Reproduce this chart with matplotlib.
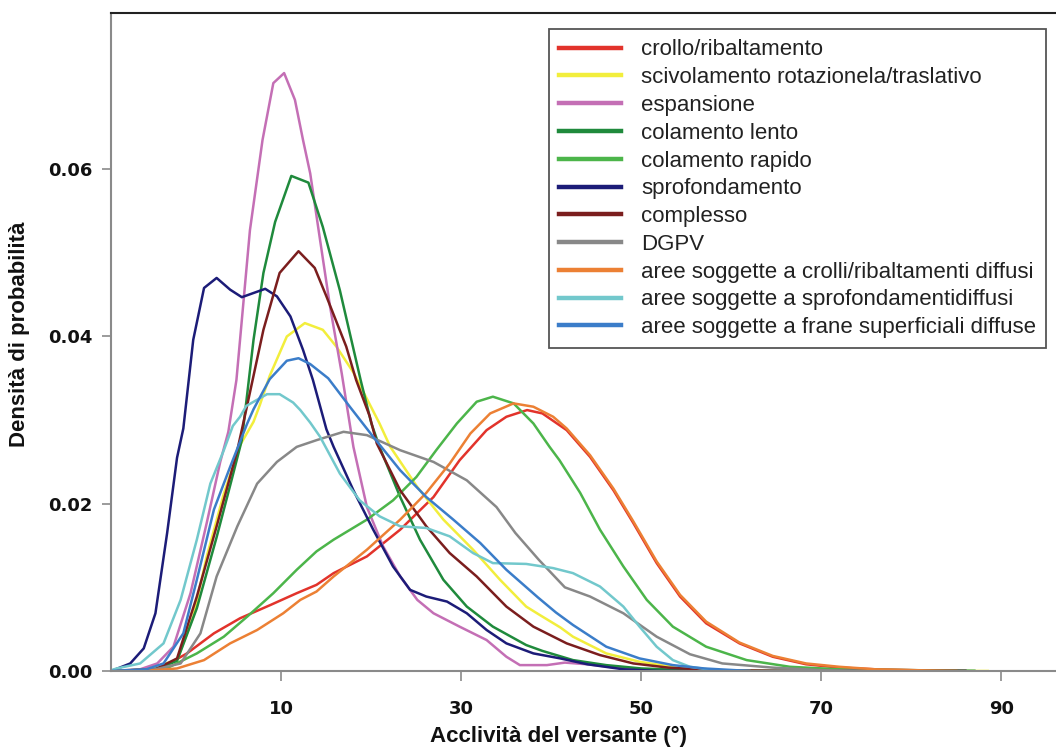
#!/usr/bin/env python3
import matplotlib
matplotlib.use("Agg")
import matplotlib.pyplot as plt


# values (slope in degrees, probability density)
labels = [
    "crollo/ribaltamento",
    "scivolamento rotazionela/traslativo",
    "espansione",
    "colamento lento",
    "colamento rapido",
    "sprofondamento",
    "complesso",
    "DGPV",
    "aree soggette a crolli/ribaltamenti diffusi",
    "aree soggette a sprofondamentidiffusi",
    "aree soggette a frane superficiali diffuse",
]
colors = ["#e2332b", "#f2ee3c", "#c46fb5", "#1f8a3c", "#4cb54a", "#1c1c78",
          "#7b1e1e", "#888888", "#ec8034", "#72c8cc", "#3b7dc9"]

crollo_x = [-8.9, -6, -3.1, -0.5, 2.5, 5.4, 8.8, 11.7, 13.9, 15.8, 19.5, 23.2, 26.9, 29.8,
            32.8, 35, 37.3, 39, 41.7, 44.3, 46.9, 49.1, 51.7, 54.3, 57.2, 60.9, 64.6, 68.3,
            72, 76, 80, 85]
crollo_y = [0, 0.0001, 0.0005, 0.0021, 0.0045, 0.0063, 0.0079, 0.0093, 0.0103, 0.0117,
            0.0137, 0.0169, 0.0208, 0.0252, 0.0288, 0.0304, 0.0312, 0.0308, 0.0288, 0.0256,
            0.0216, 0.0177, 0.0129, 0.0089, 0.0057, 0.0033, 0.0017, 0.0008, 0.0004, 0.0002,
            0.0001, 0]

scivol_x = [-8.9, -5, -1.6, 0.2, 1.7, 3.6, 5.4, 6.9, 7.6, 8.7, 10.6, 12.6, 14.6, 16.1, 18,
            20.9, 22.1, 25.1, 28, 31.3, 34.3, 37.2, 38.7, 41, 42.4, 46.1, 49.8, 54,
            58, 65, 88.5]
scivol_y = [0, 0.0002, 0.0013, 0.0065, 0.0137, 0.0212, 0.027, 0.0298, 0.0318, 0.0353,
            0.040, 0.0416, 0.0408, 0.0388, 0.0357, 0.0296, 0.0268, 0.022, 0.0181,
            0.0145, 0.0109, 0.0077, 0.0067, 0.0052, 0.0041, 0.0021, 0.0011, 0.0004, 0.0001,
            0, 0]

espans_x = [-8.9, -5.7, -3.8, -2, -0.1, 1.7, 3.2, 4.1, 5.0, 6.5, 7.9, 9.1, 10.3, 11.5, 12.4,
            13.2, 14.3, 15.4, 16.7, 18, 19.5, 21.3, 23.2, 25.1, 26.9, 29.8, 32.8, 35, 36.5,
            39.5, 41.5, 44, 48, 52, 56]
espans_y = [0, 0.0002, 0.0009, 0.0029, 0.0093, 0.0177, 0.025, 0.0286, 0.0348, 0.0527,
            0.0635, 0.0703, 0.0715, 0.0683, 0.0635, 0.0595, 0.0515, 0.0436, 0.0356, 0.0268,
            0.0196, 0.0149, 0.0113, 0.0085, 0.0069, 0.0053, 0.0037, 0.0017, 0.0007, 0.0007,
            0.0010, 0.0008, 0.0003, 0.0001, 0]

lento_x = [-8.9, -4, -1.6, 0.6, 2.8, 4.5, 5.6, 6.9, 8, 9.3, 11.1, 13, 14.6, 16.5, 18.2, 18.8,
           20, 20.9, 23.2, 25.4, 28, 30.6, 33.5, 37.2, 39, 42.4, 46.1, 50, 55, 60, 87]
lento_y = [0, 0.0002, 0.0012, 0.0075, 0.016, 0.023, 0.0276, 0.0396, 0.0476, 0.0537, 0.0592,
           0.0584, 0.0531, 0.0455, 0.0376, 0.0348, 0.0296, 0.0268, 0.0208, 0.0157, 0.0109,
           0.0077, 0.0053, 0.0031, 0.0024, 0.0013, 0.0007, 0.0003, 0.0001, 0, 0]

rapido_x = [-8.9, -5, -2.4, 0.6, 3.6, 6.2, 9.1, 11.7, 13.9, 15.8, 19.5, 22.4, 25, 27.2, 29.5,
            31.7, 33.5, 35.8, 38, 39.8, 40.9, 43.2, 45.4, 48, 50.6, 53.5, 57.2, 61.7, 66.5,
            72, 80, 87]
rapido_y = [0, 0.0001, 0.0005, 0.0021, 0.0041, 0.0065, 0.0093, 0.0121, 0.0143, 0.0157,
            0.0181, 0.0204, 0.0232, 0.0264, 0.0296, 0.0322, 0.0328, 0.032, 0.0296, 0.0268,
            0.0252, 0.0213, 0.0169, 0.0125, 0.0085, 0.0053, 0.0029, 0.0013, 0.0005, 0.0002,
            0.0001, 0]

sprof_x = [-8.9, -6.8, -5.3, -4, -2.7, -1.6, -0.9, 0.2, 1.4, 2.8, 4.3, 5.6, 8.2, 9.5, 11,
           12.4, 13.5, 15, 15.8, 18, 20.2, 22.4, 24.3, 26.1, 28.4, 30.6, 32.8, 35, 38, 41,
           44, 48, 52, 86]
sprof_y = [0, 0.0009, 0.0027, 0.0069, 0.0165, 0.0255, 0.029, 0.0396, 0.0458, 0.047, 0.0456,
           0.0447, 0.0457, 0.0448, 0.0424, 0.0384, 0.0348, 0.0289, 0.0268, 0.0216, 0.0169,
           0.0125, 0.0097, 0.0089, 0.0083, 0.0069, 0.0049, 0.0033, 0.0021, 0.0015, 0.0008,
           0.0002, 0, 0]

compl_x = [-8.9, -4, -1.6, 0.6, 2.8, 5.1, 6.1, 8, 9.8, 11.9, 13.7, 15, 17.2, 18.3, 19.8,
           20.6, 23.2, 26.1, 28.7, 31.7, 35, 38, 41.7, 45.4, 49.1, 53, 58, 65, 86]
compl_y = [0, 0.0002, 0.0015, 0.0089, 0.0173, 0.0264, 0.0313, 0.0408, 0.0476, 0.0502,
           0.0482, 0.0448, 0.0388, 0.0348, 0.0305, 0.0272, 0.0216, 0.0173, 0.0141, 0.0113,
           0.0077, 0.0053, 0.0033, 0.0019, 0.0009, 0.0004, 0.0001, 0, 0]

dgpv_x = [-8.9, -4, -1.2, 1, 2.8, 5.1, 7.3, 9.5, 11.7, 13.9, 16.9, 19.5, 23.2, 26.9, 30.6,
          33.9, 36, 38.6, 41.5, 44.3, 48, 51.7, 55.4, 59, 64.6, 70, 76]
dgpv_y = [0, 0.0002, 0.0009, 0.0045, 0.0113, 0.0173, 0.0224, 0.025, 0.0268, 0.0276, 0.0286,
          0.0282, 0.0264, 0.025, 0.0228, 0.0196, 0.0165, 0.0133, 0.010, 0.0089, 0.0069,
          0.0041, 0.002, 0.0009, 0.0004, 0.0001, 0]

crolli_d_x = [-8.9, -4, -1.6, 1.4, 4.3, 7.3, 10.2, 12.1, 13.9, 15.8, 19.5, 23.2, 26.1, 28.7,
              31, 33.2, 35.8, 38, 40.2, 41.7, 44.3, 46.9, 49.1, 51.7, 54.3, 57.2, 60.9, 64.6,
              68.3, 72, 76, 80, 85]
crolli_d_y = [0, 0.0001, 0.0003, 0.0013, 0.0033, 0.0049, 0.0069, 0.0085, 0.0095, 0.0113,
              0.0145, 0.0181, 0.0213, 0.0248, 0.0284, 0.0308, 0.032, 0.0316, 0.0304, 0.029,
              0.0258, 0.0218, 0.0179, 0.0131, 0.0091, 0.0059, 0.0034, 0.0018, 0.0009, 0.0005,
              0.0002, 0.0001, 0]

sprof_d_x = [-8.9, -8.3, -5.7, -3.1, -1.2, 0.6, 2.1, 3.6, 4.6, 5.4, 6.1, 8.4, 9.8, 11.3, 12.1,
             13.2, 14.3, 16.5, 18.7, 20.9, 23.2, 26.1, 28.7, 31.3, 33.5, 37.2, 40.2, 42.4,
             45.4, 48, 49.8, 51.7, 53.5, 55.4, 58, 62]
sprof_d_y = [0.0001, 0.0003, 0.0009, 0.0033, 0.0085, 0.0157, 0.0224, 0.0264, 0.0293, 0.0304,
             0.0317, 0.0331, 0.0331, 0.0321, 0.0312, 0.0297, 0.028, 0.0236, 0.0204, 0.0185,
             0.0173, 0.0171, 0.0161, 0.0141, 0.0129, 0.0128, 0.0123, 0.0117, 0.0101, 0.0077,
             0.0053, 0.0029, 0.0013, 0.0005, 0.0001, 0]

frane_x = [-8.9, -5, -3.1, -0.9, 0.6, 2.5, 4.3, 6.2, 6.9, 8.7, 10.6, 11.9, 13.2, 15.2, 17.6,
           20.2, 23.2, 26.1, 29.1, 32.1, 35, 38.5, 40.5, 42.4, 46.1, 49.8, 53.5, 57, 62]
frane_y = [0, 0.0002, 0.0009, 0.0045, 0.0109, 0.0193, 0.0244, 0.0296, 0.0313, 0.0349, 0.0371,
           0.0374, 0.0367, 0.035, 0.0316, 0.028, 0.024, 0.0208, 0.0181, 0.0153, 0.0121,
           0.0088, 0.007, 0.0055, 0.0029, 0.0015, 0.0007, 0.0003, 0]

series = [(crollo_x, crollo_y), (scivol_x, scivol_y), (espans_x, espans_y),
          (lento_x, lento_y), (rapido_x, rapido_y), (sprof_x, sprof_y),
          (compl_x, compl_y), (dgpv_x, dgpv_y), (crolli_d_x, crolli_d_y),
          (sprof_d_x, sprof_d_y), (frane_x, frane_y)]

x_ticks = [10, 30, 50, 70, 90]
y_ticks = [0.00, 0.02, 0.04, 0.06]


def main():
    fig = plt.figure(figsize=(10.56, 7.55), dpi=100)
    ax = fig.add_axes([0.1051, 0.1113, 0.8968, 0.8711])

    for (xs, ys), lab, c in zip(series, labels, colors):
        ax.plot(xs, ys, color=c, lw=1.8, label=lab, solid_joinstyle='round')

    ax.set_xlim(-8.94, 96.3)
    ax.set_ylim(0, 0.07865)

    grey = '#8a8a8a'
    ax.spines['right'].set_visible(False)
    ax.spines['top'].set_color('#222222')
    ax.spines['top'].set_linewidth(1.5)
    for s in ['left', 'bottom']:
        ax.spines[s].set_color(grey)
        ax.spines[s].set_linewidth(1.5)

    ax.set_xticks(x_ticks)
    ax.set_xticklabels([str(t) for t in x_ticks])
    ax.set_yticks(y_ticks)
    ax.set_yticklabels([f"{t:.2f}" for t in y_ticks])
    ax.tick_params(axis='x', length=7.2, width=1.2, color=grey, pad=13.5)
    ax.tick_params(axis='y', length=6.5, width=1.2, color=grey, pad=7)
    for t in ax.get_xticklabels() + ax.get_yticklabels():
        t.set_fontfamily('DejaVu Sans')
        t.set_fontweight('bold')
        t.set_fontsize(13)
        t.set_color('#111111')

    fig.text(558 / 1056, 1 - 742 / 755, "Acclività del versante (°)",
             family='Liberation Sans', weight='bold', size=16, color='#111111',
             ha='center', va='baseline')
    fig.text(20 / 1056, 1 - 334 / 755, "Densità di probabilità",
             family='Liberation Sans', weight='bold', size=16, color='#111111',
             rotation=90, ha='center', va='center')

    leg = ax.legend(loc='upper left', bbox_to_anchor=(549 / 1056, 1 - 29.4 / 755),
                    bbox_transform=fig.transFigure, borderaxespad=0,
                    prop={'family': 'Liberation Sans', 'size': 16},
                    handlelength=2.8, handletextpad=0.89, borderpad=0.45,
                    labelspacing=0.305, fancybox=False, framealpha=1)
    leg.get_frame().set_edgecolor('#555555')
    leg.get_frame().set_linewidth(1.3)
    for h in leg.get_lines():
        h.set_linewidth(3.2)
    for t in leg.get_texts():
        t.set_color('#222222')

    fig.savefig("out.png", dpi=100)


if __name__ == '__main__':
    main()
